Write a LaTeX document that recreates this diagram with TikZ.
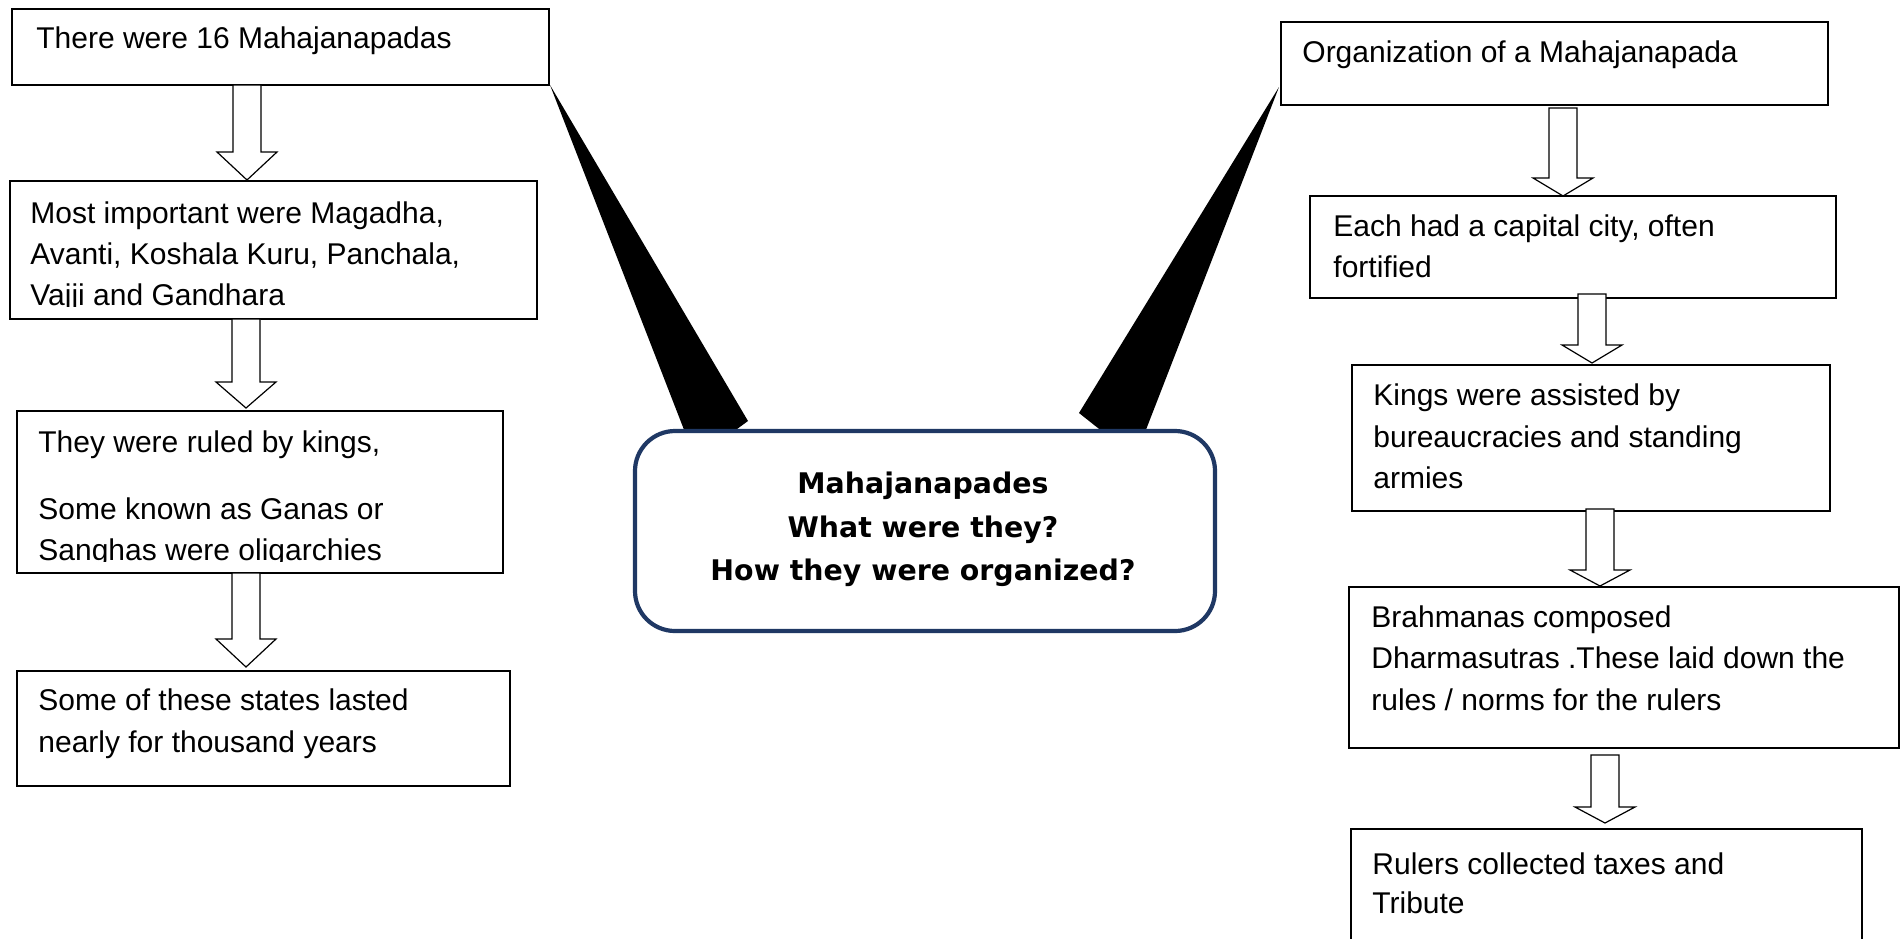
\documentclass[tikz,border=0pt]{standalone}
\usepackage{fontspec}
\setmainfont{Liberation Sans}
\newfontfamily\headfont{DejaVu Sans}
\usetikzlibrary{fit}
\definecolor{hubblue}{RGB}{31,56,100}

\tikzset{
  box/.style={draw=black, line width=0.7pt, fill=white, inner sep=0pt},
  line/.style={anchor=base west, inner sep=0pt, font=\fontsize{15}{20.5}\selectfont},
  headline/.style={anchor=base, inner sep=0pt, font=\headfont\bfseries\fontsize{14.2}{22}\selectfont},
  hub/.style={draw=hubblue, line width=2.1pt, fill=white, inner sep=0pt, rounded corners=20pt},
  blk/.style={draw=black, line width=0.6pt, fill=white, line join=miter},
  tail/.style={fill=black},
}
% hollow block arrow pointing down: centre x, shaft top, head base, tip
\newcommand\blockdown[4]{%
  \draw[blk] (#1-14,#2) -- (#1+14,#2) -- (#1+14,#3) -- (#1+30,#3) -- (#1,#4)
    -- (#1-30,#3) -- (#1-14,#3) -- cycle;}

\begin{document}
\begin{tikzpicture}[x=0.5pt, y=-0.5pt]
\useasboundingbox[fill=white] (0,0) rectangle (1901,938);

% callout tails joining the two column heads to the central box
\fill[tail] (550,85) -- (748,421) -- (722,440) -- (688,440) -- cycle;
\fill[tail] (1279,87) -- (1079,413) -- (1113,440) -- (1142,440) -- cycle;

% ---------- left column ----------
\node[box, fit={(12,9)(549,85)}] (l1) {};
\node[line] (l1a) at (36,48) {There were 16 Mahajanapadas};

\node[box, fit={(10,181)(537,319)}] (l2) {};
\node[line] (l2a) at (30,223) {Most important were Magadha,};
\node[line] (l2b) at (30,264) {Avanti, Koshala Kuru, Panchala,};
\begin{scope}
  \clip (10,181) rectangle (537,306.5);
  \node[line] (l2c) at (30,305) {Vajji and Gandhara};
\end{scope}

\node[box, fit={(17,411)(503,573)}] (l3) {};
\node[line] (l3a) at (38,452) {They were ruled by kings,};
\node[line] (l3b) at (38,519) {Some known as Ganas or};
\begin{scope}
  \clip (17,411) rectangle (503,561.3);
  \node[line] (l3c) at (38,560) {Sanghas were oligarchies};
\end{scope}

\node[box, fit={(17,671)(510,786)}] (l4) {};
\node[line] (l4a) at (38,710) {Some of these states lasted};
\node[line] (l4b) at (38,752) {nearly for thousand years};

\blockdown{247}{85}{152}{180}
\blockdown{246}{319}{382}{408}
\blockdown{246}{573}{639}{667}

% ---------- central box ----------
\node[hub, fit={(635,431)(1215,631)}] (hub) {};
\node[headline] (h1) at (923,493) {Mahajanapades};
\node[headline] (h2) at (923,537) {What were they?};
\node[headline] (h3) at (923,580) {How they were organized?};

% ---------- right column ----------
\node[box, fit={(1281,22)(1828,105)}] (r1) {};
\node[line] (r1a) at (1302,62) {Organization of a Mahajanapada};

\node[box, fit={(1310,196)(1836,298)}] (r2) {};
\node[line] (r2a) at (1333,236) {Each had a capital city, often};
\node[line] (r2b) at (1333,277) {fortified};

\node[box, fit={(1352,365)(1830,511)}] (r3) {};
\node[line] (r3a) at (1373,405) {Kings were assisted by};
\node[line] (r3b) at (1373,447) {bureaucracies and standing};
\node[line] (r3c) at (1373,488) {armies};

\node[box, fit={(1349,587)(1899,748)}] (r4) {};
\node[line] (r4a) at (1371,627) {Brahmanas composed};
\node[line] (r4b) at (1371,668) {Dharmasutras .These laid down the};
\node[line] (r4c) at (1371,710) {rules / norms for the rulers};

\node[box, fit={(1351,829)(1862,960)}] (r5) {};
\node[line] (r5a) at (1372,874) {Rulers collected taxes and};
\node[line] (r5b) at (1372,913) {Tribute};

\blockdown{1563}{108}{178}{196}
\blockdown{1592}{294}{345}{363}
\blockdown{1600}{509}{570}{586}
\blockdown{1605}{755}{807}{823}
\end{tikzpicture}
\end{document}
